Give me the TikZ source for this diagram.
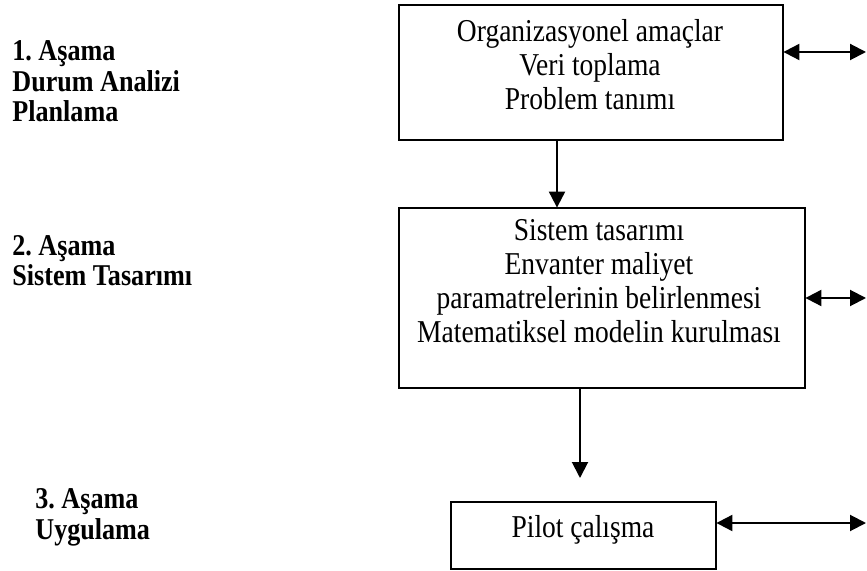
\documentclass[tikz,border=0pt]{standalone}
\usepackage{fontspec}
\setmainfont{Liberation Serif}
% narrowed serif: glyphs a little taller than they are wide
\newfontfamily\tallserif[FakeStretch=0.865]{Liberation Serif}
\usetikzlibrary{arrows.meta}
\begin{document}
\frenchspacing
\begin{tikzpicture}[x=0.5pt,y=-0.5pt,
  stagebox/.style={draw, line width=1pt},
  boxline/.style={anchor=base, inner sep=0pt, font={\tallserif\fontsize{15.9}{17}\selectfont}},
  labelline/.style={anchor=base west, inner sep=0pt, font={\tallserif\fontsize{15.1}{17}\selectfont\bfseries}},
  flow/.style={line width=1pt, -{Triangle[length=8pt, width=8pt]}},
  link/.style={line width=1pt, {Triangle[length=8pt, width=8pt]}-{Triangle[length=8pt, width=8pt]}}]
\useasboundingbox (0,0) rectangle (867,571);

% stage boxes
\draw[stagebox] (399,5) rectangle (783,140);
\node[inner sep=0pt, minimum width=192pt, minimum height=67.5pt] (b1) at (591,72.5) {};
\draw[stagebox] (399,208) rectangle (805,388);
\node[inner sep=0pt, minimum width=203pt, minimum height=90pt] (b2) at (602,298) {};
\draw[stagebox] (451,502) rectangle (716,569);
\node[inner sep=0pt, minimum width=132.5pt, minimum height=33.5pt] (b3) at (583.5,535.5) {};

% box contents, one node per line
\node[boxline] (t1a) at (590,42) {Organizasyonel amaçlar};
\node[boxline] (t1b) at (590,76) {Veri toplama};
\node[boxline] (t1c) at (590,110) {Problem tanımı};
\node[boxline] (t2a) at (599,241) {Sistem tasarımı};
\node[boxline] (t2b) at (599,275) {Envanter maliyet};
\node[boxline] (t2c) at (599,309) {paramatrelerinin belirlenmesi};
\node[boxline] (t2d) at (599,343) {Matematiksel modelin kurulması};
\node[boxline] (t3a) at (583,537) {Pilot çalışma};

% stage labels
\node[labelline] (l1a) at (12,61) {1. Aşama};
\node[labelline] (l1b) at (12,92) {Durum Analizi};
\node[labelline] (l1c) at (12,122) {Planlama};
\node[labelline] (l2a) at (12,256) {2. Aşama};
\node[labelline] (l2b) at (12,286) {Sistem Tasarımı};
\node[labelline] (l3a) at (35,508) {3. Aşama};
\node[labelline] (l3b) at (35,539) {Uygulama};

% flow between stages
\coordinate (c1) at (557,0);
\coordinate (c2) at (580,0);
\coordinate (e2) at (580,478);
\draw[flow] (b1.south -| c1) -- (b2.north -| c1);
\draw[flow] (b2.south -| c2) -- (e2);

% links to the right edge
\coordinate (r1) at (866,52);
\coordinate (r2) at (866,298);
\coordinate (r3) at (866,523);
\draw[link] (b1.east |- r1) -- (r1);
\draw[link] (b2.east |- r2) -- (r2);
\draw[link] (b3.east |- r3) -- (r3);
\end{tikzpicture}
\end{document}
